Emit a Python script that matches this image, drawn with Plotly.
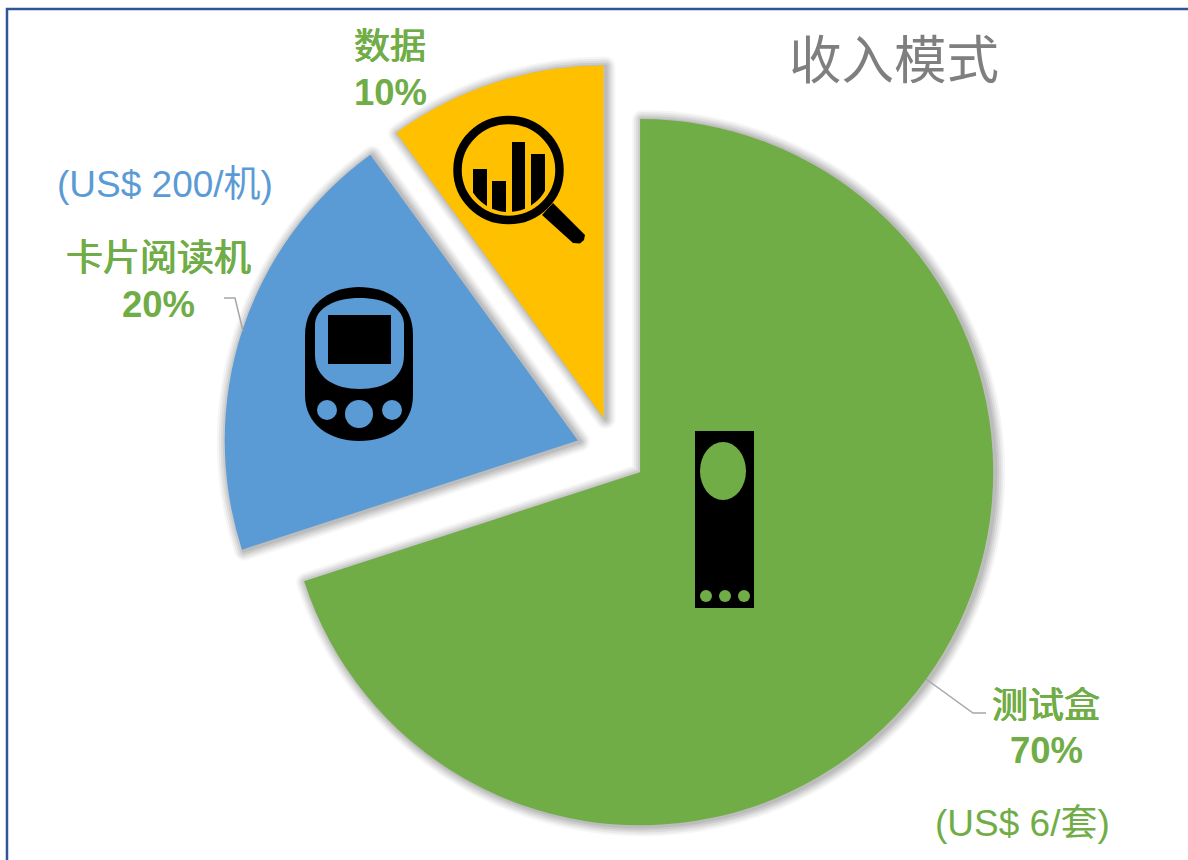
import numpy as np
import plotly.graph_objects as go

W, H = 1188, 860

categories = ["测试盒", "卡片阅读机", "数据"]
values = [70, 20, 10]
prices = ["(US$ 6/套)", "(US$ 200/机)"]
title_text = "收入模式"

GREEN = "#70AD47"
BLUE = "#5B9BD5"
GOLD = "#FFC000"
CLEAR = "rgba(0,0,0,0)"
LATIN = "Liberation Sans, Arial, sans-serif"
CJK = "Liberation Sans, Noto Sans CJK SC, sans-serif"

# Pie placement in pixels: (centre x, centre y, diameter including the 10% pull)
MAIN = (611.5, 451.4, 777)
SMALL = (614.4, 451.5, 775.5)   # the gold slice sits slightly differently


def px(x):
    return x / W


def py(y):
    return 1 - y / H


def P(*pts):
    return "M" + " L".join(f"{px(x):.5f},{py(y):.5f}" for x, y in pts) + " Z"


def curve(*parts):
    out = []
    for cmd, pts in parts:
        out.append(cmd + " ".join(f"{px(x):.5f},{py(y):.5f}" for x, y in pts))
    return " ".join(out) + " Z"


def ellipse(cx, cy, rx, ry, fill, line=None, lw=0):
    return dict(type="circle", xref="paper", yref="paper",
                x0=px(cx - rx), x1=px(cx + rx), y0=py(cy + ry), y1=py(cy - ry),
                fillcolor=fill, line=dict(color=line or fill, width=lw), layer="above")


def rect(x0, y0, x1, y1, fill):
    return dict(type="rect", xref="paper", yref="paper",
                x0=px(x0), x1=px(x1), y0=py(y1), y1=py(y0),
                fillcolor=fill, line=dict(width=0), layer="above")


def path(d, fill):
    return dict(type="path", xref="paper", yref="paper", path=d,
                fillcolor=fill, line=dict(width=0), layer="above")


def polyline(pts, color, width):
    d = "M" + " L".join(f"{px(x):.5f},{py(y):.5f}" for x, y in pts)
    return dict(type="path", xref="paper", yref="paper", path=d,
                line=dict(color=color, width=width), layer="above")


def dom(place, dx=0, dy=0):
    cx, cy, d = place
    cx, cy = cx + dx, cy + dy
    return dict(x=[px(cx - d / 2), px(cx + d / 2)], y=[py(cy + d / 2), py(cy - d / 2)])


def pie(place, fills, line_colors, line_width, dx=0, dy=0):
    return go.Pie(labels=categories, values=values, sort=False, direction="clockwise",
                  rotation=0, pull=[0.1, 0.1, 0.1], domain=dom(place, dx, dy),
                  textinfo="none", hoverinfo="skip", showlegend=False,
                  marker=dict(colors=fills, line=dict(color=line_colors, width=line_width)))


fig = go.Figure()
# soft drop-shadow rings beneath the slices, nudged to the lower right
for w, a in [(20, 0.035), (16, 0.05), (12, 0.06), (8, 0.07), (4, 0.07)]:
    c = f"rgba(0,0,0,{a})"
    fig.add_trace(pie(MAIN, [CLEAR] * 3, [c, c, CLEAR], w, 2, 1))
    fig.add_trace(pie(SMALL, [CLEAR] * 3, [CLEAR, CLEAR, c], w, 2, 1))
fig.add_trace(pie(MAIN, [GREEN, BLUE, CLEAR], CLEAR, 0))
fig.add_trace(pie(SMALL, [CLEAR, CLEAR, GOLD], CLEAR, 0))

shapes = [
    polyline([(7, 860), (7, 9), (1188, 9)], "#2F5597", 2.5),
    polyline([(926, 679), (973, 713), (986, 713)], "#A6A6A6", 1.5),
    polyline([(224, 298), (235, 298), (243, 331)], "#A6A6A6", 1.5),
]

# magnifier icon
mx, my, inner = 508.5, 170, 42
for x0, x1, top in [(473, 487, 169), (492, 506, 181), (512, 525, 142), (531, 545, 154)]:
    xs = np.linspace(x0, x1, 7)
    bottom = [(x, my + np.sqrt(inner ** 2 - (x - mx) ** 2)) for x in xs[::-1]]
    shapes.append(path(P((x0, top), (x1, top), *bottom), "black"))
shapes.append(ellipse(mx, my, 51, 50, CLEAR, "black", 8.5))
shapes.append(path(P((553, 203), (542, 215), (573, 243), (580, 243.5), (584, 240), (585, 235)), "black"))

# card reader icon
shapes.append(path(curve(("M", [(305, 335)]),
                         ("C", [(305, 300), (335, 287), (359, 287)]),
                         ("C", [(385, 287), (413, 300), (413, 335)]),
                         ("L", [(413, 395)]),
                         ("C", [(413, 425), (390, 441), (359, 441)]),
                         ("C", [(330, 441), (305, 425), (305, 395)])), "black"))
shapes.append(path(curve(("M", [(315, 325)]),
                         ("C", [(315, 308), (335, 298), (359.5, 298)]),
                         ("C", [(385, 298), (404, 308), (404, 325)]),
                         ("L", [(404, 355)]),
                         ("C", [(404, 378), (385, 389), (359.5, 389)]),
                         ("C", [(335, 389), (315, 378), (315, 355)])), BLUE))
shapes.append(rect(328, 315, 391, 364, "black"))
shapes.append(ellipse(327, 410, 10, 10, BLUE))
shapes.append(ellipse(359, 414, 14, 14, BLUE))
shapes.append(ellipse(392, 410, 10, 10, BLUE))

# test strip icon
shapes.append(rect(695, 431, 754, 608, "black"))
shapes.append(ellipse(723, 471, 23, 29, GREEN))
for dx in (706, 725, 744):
    shapes.append(ellipse(dx, 596, 6, 6, GREEN))


def note(x, y, text, color, size, family, weight=400, shadow="none"):
    return dict(xref="paper", yref="paper", x=px(x), y=py(y), text=text,
                showarrow=False, xanchor="center", yanchor="middle",
                font=dict(color=color, size=size, family=family, weight=weight, shadow=shadow))


THICK = f"0.6px 0 0 {GREEN}, -0.4px 0 0 {GREEN}, 0 0.4px 0 {GREEN}"

annotations = [
    note(894, 60, title_text, "#7F7F7F", 52.5, CJK),
    note(390, 46, categories[2], GREEN, 36, CJK, 400, THICK),
    note(390, 92, f"{values[2]}%", GREEN, 36.5, LATIN, 700),
    note(158, 259, categories[1], GREEN, 37, CJK, 400, THICK),
    note(158, 304, f"{values[1]}%", GREEN, 36.5, LATIN, 700),
    note(165, 185, prices[1], BLUE, 37, CJK),
    note(1046, 705, categories[0], GREEN, 36, CJK, 400, THICK),
    note(1046, 750, f"{values[0]}%", GREEN, 36.5, LATIN, 700),
    note(1022, 823, prices[0], GREEN, 37, CJK),
]

fig.update_layout(width=W, height=H, margin=dict(l=0, r=0, t=0, b=0),
                  paper_bgcolor="white", plot_bgcolor="white",
                  shapes=shapes, annotations=annotations)

fig.write_html("out.html", config=dict(displayModeBar=False),
               post_script="document.body.style.margin='0';document.body.style.overflow='hidden';")
